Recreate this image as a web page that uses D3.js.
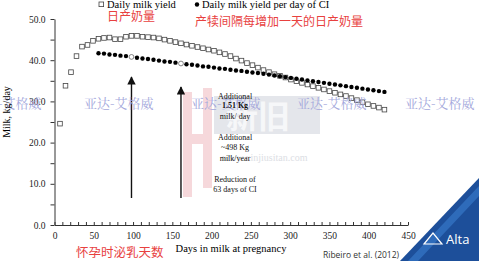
<!DOCTYPE html>
<html>
<head>
<meta charset="utf-8">
<script src="https://cdn.jsdelivr.net/npm/d3@7"></script>
<style>
  body { margin: 0; background: #fff; }
  svg { display: block; }
  .axis path, .axis line { stroke: #333; }
  .axis text { font-family: "Liberation Serif", serif; font-size: 9.5px; fill: #222; }
</style>
</head>
<body>
<div id="chart"></div>
<script>
// weekly days in milk and values
const dimYield = d3.range(7, 421, 7);
const dailyYield = [24.6, 33.8, 37.1, 41.0, 43.3, 43.7, 44.7, 45.2, 45.4, 45.5,
  45.1, 45.1, 45.7, 45.9, 45.9, 45.7, 45.6, 45.5, 45.3, 45.0,
  44.7, 44.4, 44.1, 43.8, 43.5, 43.2, 42.9, 42.6, 42.3, 41.9,
  41.5, 41.0, 40.4, 39.9, 39.3, 38.8, 38.2, 37.6, 37.1, 36.6,
  36.2, 35.8, 35.3, 34.9, 34.5, 34.1, 33.7, 33.3, 32.9, 32.5,
  32.1, 31.7, 31.3, 30.8, 30.3, 29.8, 29.3, 28.9, 28.5, 28.0];

const dimCI = d3.range(56, 421, 7);
const yieldPerCI = [41.7, 41.6, 41.4, 41.3, 41.1, 41.0, 40.8, 40.6, 40.4, 40.3,
  40.1, 39.9, 39.7, 39.6, 39.4, 39.2, 39.0, 38.9, 38.7, 38.5,
  38.4, 38.2, 38.0, 37.9, 37.7, 37.5, 37.4, 37.2, 37.0, 36.9,
  36.7, 36.5, 36.3, 36.1, 35.9, 35.7, 35.5, 35.3, 35.1, 34.9,
  34.7, 34.5, 34.3, 34.1, 33.9, 33.7, 33.5, 33.3, 33.1, 32.9,
  32.7, 32.5, 32.3];
const markedDays = [98, 161];

const xTicks = d3.range(0, 451, 10);
const yTicks = d3.range(0, 51, 5);

const noteLines = [
  ["Additional", "1.51 Kg", "milk/ day"],
  ["Additional", "~498 Kg", "milk/year"],
  ["Reduction of", "63 days of CI"]
];
const watermark = "亚达-艾格威";

const W = 479, H = 261;
const svg = d3.select('#chart').append('svg').attr('width', W).attr('height', H);

const x = d3.scaleLinear().domain([0, 450]).range([54.5, 408]);
const y = d3.scaleLinear().domain([0, 50]).range([225, 19]);

// faint background watermarks (site logo)
const wm = svg.append('g').attr('class', 'watermark').style('opacity', 0.22);
wm.append('rect').attr('x', 183).attr('y', 92).attr('width', 9).attr('height', 105).style('fill', '#d9545f');
wm.append('rect').attr('x', 203).attr('y', 88).attr('width', 9).attr('height', 100).style('fill', '#d9545f');
wm.append('rect').attr('x', 190).attr('y', 134).attr('width', 15).attr('height', 10).style('fill', '#d9545f');
wm.append('rect').attr('x', 214).attr('y', 96).attr('width', 106).attr('height', 38).style('fill', '#8a90a8');
svg.append('text').attr('x', 226).attr('y', 128).text('新旧')
  .style('font-family', '"Noto Sans CJK SC"').style('font-size', '32px').style('font-weight', 'bold')
  .style('fill', '#fff').style('opacity', 0.7);
svg.append('text').attr('x', 222).attr('y', 161).text('www.xinjiusitan.com')
  .style('font-family', '"Liberation Serif"').style('font-size', '10px')
  .style('fill', '#dcdee4');

// axes
const xAxis = d3.axisBottom(x).tickValues(xTicks).tickSizeInner(-3).tickSizeOuter(0)
  .tickPadding(7).tickFormat(d => d % 50 === 0 ? d : '');
svg.append('g').attr('class', 'axis').attr('transform', `translate(0,${y(0)})`).call(xAxis);

const yAxis = d3.axisLeft(y).tickValues(yTicks).tickSizeInner(4).tickSizeOuter(0)
  .tickPadding(5).tickFormat(d => d % 10 === 0 ? d3.format('.1f')(d) : '');
svg.append('g').attr('class', 'axis').attr('transform', `translate(${x(0)},0)`).call(yAxis);

// arrows at the two marked days
svg.append('defs').append('marker').attr('id', 'head')
  .attr('viewBox', '0 0 10 10').attr('refX', 9).attr('refY', 5)
  .attr('markerWidth', 6).attr('markerHeight', 6).attr('orient', 'auto')
  .append('path').attr('d', 'M0,0L10,5L0,10z').style('fill', '#111');
svg.selectAll('.arrow').data(markedDays).enter().append('line').attr('class', 'arrow')
  .attr('x1', d => x(d)).attr('x2', d => x(d))
  .attr('y1', 198).attr('y2', (d, i) => i === 0 ? 77 : 87)
  .style('stroke', '#111').style('stroke-width', 1.4)
  .attr('marker-end', 'url(#head)');

// daily milk yield squares
svg.selectAll('.sq').data(dimYield).enter().append('rect').attr('class', 'sq')
  .attr('x', d => x(d) - 2.3).attr('y', (d, i) => y(dailyYield[i]) - 2.3)
  .attr('width', 4.6).attr('height', 4.6)
  .style('fill', '#fff').style('stroke', '#444').style('stroke-width', 0.8);

// yield per day of CI dots
svg.selectAll('.dot').data(dimCI).enter().append('circle').attr('class', 'dot')
  .attr('cx', d => x(d)).attr('cy', (d, i) => y(yieldPerCI[i]))
  .attr('r', d => markedDays.includes(d) ? 2.4 : 2.2)
  .style('fill', d => markedDays.includes(d) ? '#fff' : '#000')
  .style('stroke', d => markedDays.includes(d) ? '#666' : 'none')
  .style('stroke-width', 0.8);

// legend
const lg = svg.append('g').style('font-family', '"Liberation Serif", serif').style('font-size', '10.5px');
lg.append('rect').attr('x', 99).attr('y', 2).attr('width', 4.6).attr('height', 4.6)
  .style('fill', '#fff').style('stroke', '#444').style('stroke-width', 0.8);
lg.append('text').attr('x', 107).attr('y', 8).text('Daily milk yield');
lg.append('circle').attr('cx', 197).attr('cy', 4.5).attr('r', 2.2).style('fill', '#000');
lg.append('text').attr('x', 202).attr('y', 8).text('Daily milk yield per day of CI');

// red chinese notes
const red = svg.append('g').style('font-family', '"Noto Sans CJK SC"').style('fill', '#e8413f');
red.append('text').attr('x', 107).attr('y', 21).style('font-size', '12px').text('日产奶量');
red.append('text').attr('x', 195).attr('y', 26).style('font-size', '12px').text('产犊间隔每增加一天的日产奶量');
red.append('text').attr('x', 76).attr('y', 257).style('font-size', '12.5px').text('怀孕时泌乳天数');

// watermarks over the chart
svg.selectAll('.wm').data([-28, 84, 191, 297, 405]).enter().append('text').attr('class', 'wm')
  .attr('x', d => d).attr('y', 108).text(watermark)
  .style('font-family', '"Noto Serif CJK SC", "Noto Sans CJK SC"').style('font-size', '13px')
  .style('fill', '#a4a8dc');

// annotation text block
const note = svg.append('g').style('font-family', '"Liberation Serif", serif')
  .style('font-size', '8px').style('fill', '#111').attr('text-anchor', 'middle');
const noteY = [[98.5, 108, 118.5], [140, 150, 160.5], [182, 191.5]];
noteLines.forEach((lines, b) => lines.forEach((t, i) => {
  note.append('text').attr('x', 235).attr('y', noteY[b][i]).text(t)
    .style('font-weight', t.includes('Kg') && b === 0 ? 'bold' : 'normal');
}));

// axis titles
svg.append('text').attr('transform', 'translate(10,112) rotate(-90)').attr('text-anchor', 'middle')
  .style('font-family', '"Liberation Serif", serif').style('font-size', '10px').text('Milk, kg/day');
svg.append('text').attr('x', 231).attr('y', 252).attr('text-anchor', 'middle')
  .style('font-family', '"Liberation Serif", serif').style('font-size', '10.5px')
  .text('Days in milk at pregnancy');
svg.append('text').attr('x', 323).attr('y', 258)
  .style('font-family', '"Open Sans", sans-serif').style('font-size', '8.5px').style('fill', '#333')
  .text('Ribeiro et al. (2012)');

// Alta corner logo
const logo = svg.append('g');
logo.append('path').attr('d', `M400,${H}L${W},178L${W},${H}Z`).style('fill', '#1d4f9a');
logo.append('path').attr('d', `M408,${H}L${W},186L${W},196L418,${H}Z`).style('fill', '#3b7fd0').style('opacity', 0.6);
logo.append('path').attr('d', 'M424,244L433,233L442,244Z').style('fill', 'none').style('stroke', '#fff').style('stroke-width', 1.2);
logo.append('text').attr('x', 446).attr('y', 244).text('Alta')
  .style('font-family', '"Open Sans", sans-serif').style('font-size', '13px').style('fill', '#fff');
</script>
</body>
</html>
